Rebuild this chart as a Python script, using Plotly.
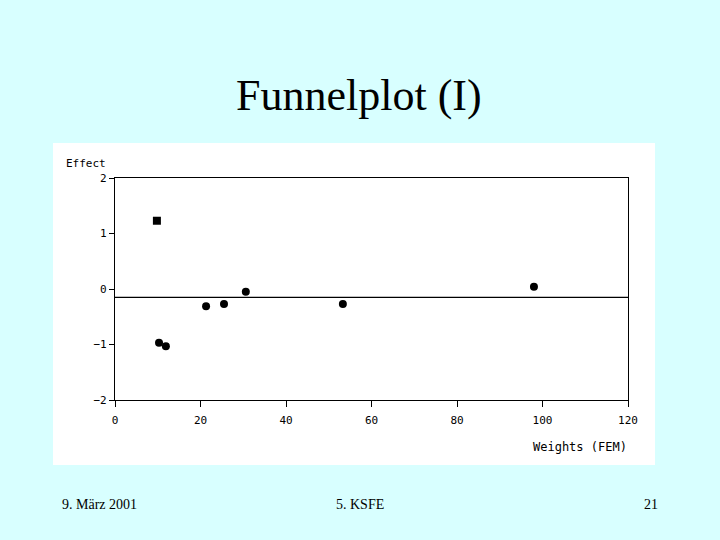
import plotly.graph_objects as go

weights = [9.8, 10.3, 11.9, 21.3, 25.5, 30.6, 53.3, 98.0]
effects = [1.23, -0.97, -1.03, -0.31, -0.27, -0.05, -0.27, 0.04]
symbols = ["square", "circle", "circle", "circle", "circle", "circle", "circle", "circle"]
pooled_effect = -0.15

x_ticks = [0, 20, 40, 60, 80, 100, 120]
x_tick_labels = ["0", "20", "40", "60", "80", "100", "120"]
y_ticks = [-2, -1, 0, 1, 2]
y_tick_labels = ["\u22122", "\u22121", "0", "1", "2"]

title_text = "Funnelplot (I)"
footer_left = "9. März 2001"
footer_mid = "5. KSFE"
footer_right = "21"
y_label = "Effect"
x_label = "Weights (FEM)"

bg = "#D8FFFF"
W, H = 720, 540
L, R, T, B = 115, 628, 178, 400

fig = go.Figure()
fig.add_trace(go.Scatter(
    x=weights, y=effects, mode="markers",
    marker=dict(symbol=symbols, size=8, color="black"),
    showlegend=False, hoverinfo="x+y",
))


def px(xp):
    return (xp - L) / (R - L)


def py(yp):
    return (B - yp) / (B - T)


fig.add_shape(type="rect", xref="paper", yref="paper",
              x0=px(53), x1=px(655), y0=py(465), y1=py(143),
              fillcolor="white", line=dict(width=0), layer="below")
fig.add_shape(type="line", xref="paper", yref="y", x0=0, x1=1,
              y0=pooled_effect, y1=pooled_effect, line=dict(color="black", width=1.3))

axfont = dict(family="DejaVu Sans Mono", size=11, color="black")
fig.update_xaxes(range=[0, 120], tickvals=x_ticks, ticktext=x_tick_labels,
                 showline=True, mirror=True, linecolor="black", linewidth=1.3,
                 ticks="outside", ticklen=6, tickcolor="black", showgrid=False,
                 zeroline=False, tickfont=axfont, ticklabelstandoff=4)
fig.update_yaxes(range=[-2, 2], tickvals=y_ticks, ticktext=y_tick_labels,
                 showline=True, mirror=True, linecolor="black", linewidth=1.3,
                 ticks="outside", ticklen=5, tickcolor="black", showgrid=False,
                 zeroline=False, tickfont=axfont)

serif = "Liberation Serif"
annots = [
    dict(text=title_text, x=px(359), y=py(95), font=dict(family=serif, size=44, color="black")),
    dict(text=footer_left, x=px(99), y=py(504), font=dict(family=serif, size=14, color="black")),
    dict(text=footer_mid, x=px(360), y=py(504), font=dict(family=serif, size=14, color="black")),
    dict(text=footer_right, x=px(651), y=py(504), font=dict(family=serif, size=14, color="black")),
    dict(text=y_label, x=px(86), y=py(163), font=axfont),
    dict(text=x_label, x=px(580), y=py(447), font=dict(family="DejaVu Sans Mono", size=12, color="black")),
]
for a in annots:
    fig.add_annotation(xref="paper", yref="paper", showarrow=False,
                       xanchor="center", yanchor="middle", **a)

fig.update_layout(
    width=W, height=H, paper_bgcolor=bg, plot_bgcolor="white",
    margin=dict(l=L, r=W - R, t=T, b=H - B, autoexpand=False),
)
fig.write_html("out.html", config={"displayModeBar": False},
               post_script="document.body.style.margin='0';document.body.style.background='" + bg + "';")
